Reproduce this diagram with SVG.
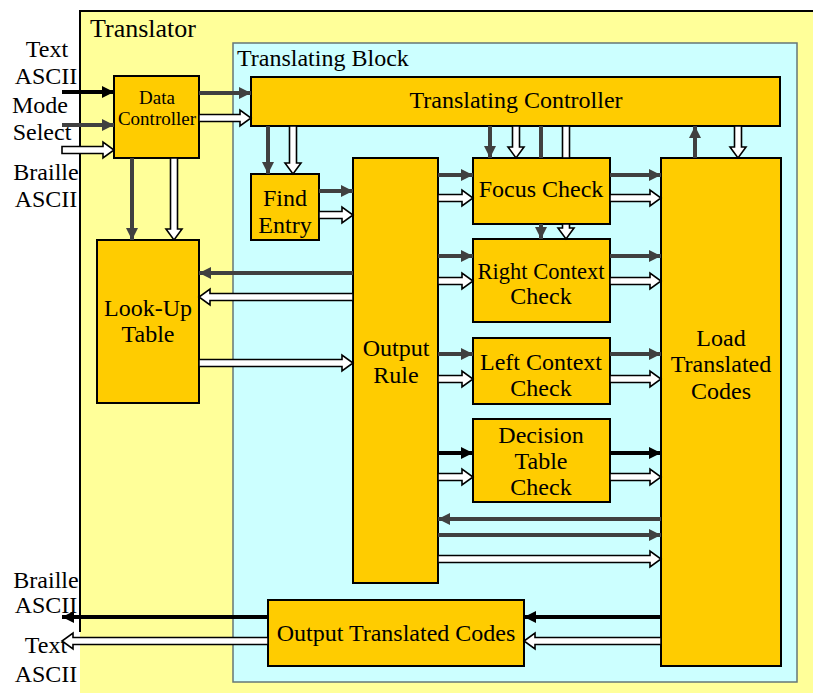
<svg xmlns="http://www.w3.org/2000/svg" width="813" height="693" viewBox="0 0 813 693">
<style>
.box{fill:#FFCC00;stroke:#000;stroke-width:2}
.t{font-family:"Liberation Serif","Times New Roman",serif;font-size:24px;fill:#000;text-anchor:middle}
.dk{stroke:#404040;stroke-width:4;fill:none}
.bk{stroke:#000;stroke-width:4;fill:none}
.ho{fill:#fff;stroke:#000;stroke-width:1.6;stroke-linejoin:miter}
</style>
<defs>
<marker id="hd" markerUnits="userSpaceOnUse" markerWidth="13" markerHeight="13" refX="12" refY="6" orient="auto"><path d="M0,0 L12,6 L0,12 z" fill="#404040"/></marker>
<marker id="hb" markerUnits="userSpaceOnUse" markerWidth="13" markerHeight="13" refX="12" refY="6" orient="auto"><path d="M0,0 L12,6 L0,12 z" fill="#000"/></marker>
</defs>
<rect x="0" y="0" width="813" height="693" fill="#fff"/>
<g id="translator">
<rect x="80" y="11" width="740" height="690" fill="#FFFF99"/>
<path d="M813,11 H80 V632" fill="none" stroke="#000" stroke-width="2"/>
<text x="90" y="37" class="t" style="text-anchor:start;font-size:26px">Translator</text>
</g>
<g id="translating-block">
<rect x="233" y="43" width="564" height="639" fill="#CCFFFF" stroke="#667777" stroke-width="1.5"/>
<text x="237" y="66" class="t" style="text-anchor:start">Translating Block</text>
</g>
<g id="io-labels">
<text x="47" y="57" class="t">Text</text>
<text x="46" y="84" class="t">ASCII</text>
<text x="40" y="113" class="t">Mode</text>
<text x="42" y="140" class="t">Select</text>
<text x="46" y="180" class="t">Braille</text>
<text x="46" y="207" class="t">ASCII</text>
<text x="46" y="588" class="t">Braille</text>
<text x="46" y="613" class="t">ASCII</text>
<text x="46" y="653" class="t">Text</text>
<text x="46" y="682" class="t">ASCII</text>
</g>
<g id="data-controller">
<rect class="box" x="114" y="76" width="85" height="82"/>
<text x="157" y="104" class="t" style="font-size:19px">Data</text>
<text x="157" y="125" class="t" style="font-size:19px">Controller</text>
</g>
<g id="translating-controller">
<rect class="box" x="251" y="77" width="529" height="49"/>
<text x="516" y="108" class="t">Translating Controller</text>
</g>
<g id="find-entry">
<rect class="box" x="251" y="174" width="68" height="66"/>
<text x="285" y="206" class="t">Find</text>
<text x="285" y="233" class="t">Entry</text>
</g>
<g id="look-up-table">
<rect class="box" x="97" y="240" width="102" height="163"/>
<text x="148" y="316" class="t">Look-Up</text>
<text x="148" y="342" class="t">Table</text>
</g>
<g id="output-rule">
<rect class="box" x="353" y="158" width="85" height="425"/>
<text x="396" y="356" class="t">Output</text>
<text x="396" y="383" class="t">Rule</text>
</g>
<g id="focus-check">
<rect class="box" x="473" y="158" width="137" height="66"/>
<text x="541" y="197" class="t">Focus Check</text>
</g>
<g id="right-context-check">
<rect class="box" x="473" y="239" width="137" height="83"/>
<text x="541" y="279" class="t" style="font-size:22.5px">Right Context</text>
<text x="541" y="304" class="t">Check</text>
</g>
<g id="left-context-check">
<rect class="box" x="473" y="338" width="137" height="66"/>
<text x="541" y="370" class="t">Left Context</text>
<text x="541" y="396" class="t">Check</text>
</g>
<g id="decision-table-check">
<rect class="box" x="473" y="419" width="137" height="83"/>
<text x="541" y="443" class="t">Decision</text>
<text x="541" y="469" class="t">Table</text>
<text x="541" y="495" class="t">Check</text>
</g>
<g id="load-translated-codes">
<rect class="box" x="661" y="158" width="120" height="508"/>
<text x="721" y="346" class="t">Load</text>
<text x="721" y="372" class="t">Translated</text>
<text x="721" y="399" class="t">Codes</text>
</g>
<g id="output-translated-codes">
<rect class="box" x="268" y="600" width="256" height="66"/>
<text x="396" y="641" class="t">Output Translated Codes</text>
</g>
<g id="connectors">
<line class="dk" x1="62" y1="125" x2="114" y2="125" marker-end="url(#hd)"/>
<line class="dk" x1="199" y1="93" x2="251" y2="93" marker-end="url(#hd)"/>
<line class="dk" x1="132" y1="158" x2="132" y2="240" marker-end="url(#hd)"/>
<line class="dk" x1="268" y1="126" x2="268" y2="174" marker-end="url(#hd)"/>
<line class="dk" x1="319" y1="191" x2="353" y2="191" marker-end="url(#hd)"/>
<line class="dk" x1="490" y1="126" x2="490" y2="158" marker-end="url(#hd)"/>
<line class="dk" x1="541" y1="126" x2="541" y2="158"/>
<line class="dk" x1="541" y1="224" x2="541" y2="239" marker-end="url(#hd)"/>
<line class="dk" x1="438" y1="175" x2="473" y2="175" marker-end="url(#hd)"/>
<line class="dk" x1="610" y1="175" x2="661" y2="175" marker-end="url(#hd)"/>
<line class="dk" x1="438" y1="256" x2="473" y2="256" marker-end="url(#hd)"/>
<line class="dk" x1="610" y1="256" x2="661" y2="256" marker-end="url(#hd)"/>
<line class="dk" x1="438" y1="354" x2="473" y2="354" marker-end="url(#hd)"/>
<line class="dk" x1="610" y1="354" x2="661" y2="354" marker-end="url(#hd)"/>
<line class="dk" x1="661" y1="519" x2="438" y2="519" marker-end="url(#hd)"/>
<line class="dk" x1="438" y1="535" x2="661" y2="535" marker-end="url(#hd)"/>
<line class="dk" x1="695" y1="158" x2="695" y2="126" marker-end="url(#hd)"/>
<line class="dk" x1="353" y1="273" x2="199" y2="273" marker-end="url(#hd)"/>
<line class="bk" x1="62" y1="92" x2="114" y2="92" marker-end="url(#hb)"/>
<line class="bk" x1="438" y1="453" x2="473" y2="453" marker-end="url(#hb)"/>
<line class="bk" x1="610" y1="453" x2="661" y2="453" marker-end="url(#hb)"/>
<line class="bk" x1="661" y1="617" x2="524" y2="617" marker-end="url(#hb)"/>
<line class="bk" x1="268" y1="617" x2="62" y2="617" marker-end="url(#hb)"/>
<polygon class="ho" points="62,146.5 103,146.5 103,142 114,150 103,158 103,153.5 62,153.5"/>
<polygon class="ho" points="199,114.5 240,114.5 240,110 251,118 240,126 240,121.5 199,121.5"/>
<polygon class="ho" points="170.5,158 170.5,229 166,229 174,240 182,229 177.5,229 177.5,158"/>
<polygon class="ho" points="289.5,126 289.5,163 285,163 293,174 301,163 296.5,163 296.5,126"/>
<polygon class="ho" points="319,211.5 342,211.5 342,207 353,215 342,223 342,218.5 319,218.5"/>
<polygon class="ho" points="512.5,126 512.5,147 508,147 516,158 524,147 519.5,147 519.5,126"/>
<rect class="ho" x="562.5" y="126" width="7" height="32"/>
<polygon class="ho" points="562.5,224 562.5,228 558,228 566,239 574,228 569.5,228 569.5,224"/>
<polygon class="ho" points="438,194.5 462,194.5 462,190 473,198 462,206 462,201.5 438,201.5"/>
<polygon class="ho" points="610,194.5 650,194.5 650,190 661,198 650,206 650,201.5 610,201.5"/>
<polygon class="ho" points="438,277.5 462,277.5 462,273 473,281 462,289 462,284.5 438,284.5"/>
<polygon class="ho" points="610,277.5 650,277.5 650,273 661,281 650,289 650,284.5 610,284.5"/>
<polygon class="ho" points="438,375.5 462,375.5 462,371 473,379 462,387 462,382.5 438,382.5"/>
<polygon class="ho" points="610,375.5 650,375.5 650,371 661,379 650,387 650,382.5 610,382.5"/>
<polygon class="ho" points="438,473.5 462,473.5 462,469 473,477 462,485 462,480.5 438,480.5"/>
<polygon class="ho" points="610,473.5 650,473.5 650,469 661,477 650,485 650,480.5 610,480.5"/>
<polygon class="ho" points="438,555.5 650,555.5 650,551 661,559 650,567 650,562.5 438,562.5"/>
<polygon class="ho" points="734.5,126 734.5,147 730,147 738,158 746,147 741.5,147 741.5,126"/>
<polygon class="ho" points="353,293.5 210,293.5 210,289 199,297 210,305 210,300.5 353,300.5"/>
<polygon class="ho" points="199,359.5 342,359.5 342,355 353,363 342,371 342,366.5 199,366.5"/>
<polygon class="ho" points="661,637.5 535,637.5 535,633 524,641 535,649 535,644.5 661,644.5"/>
<polygon class="ho" points="268,637.5 73,637.5 73,633 62,641 73,649 73,644.5 268,644.5"/>
</g>
</svg>
